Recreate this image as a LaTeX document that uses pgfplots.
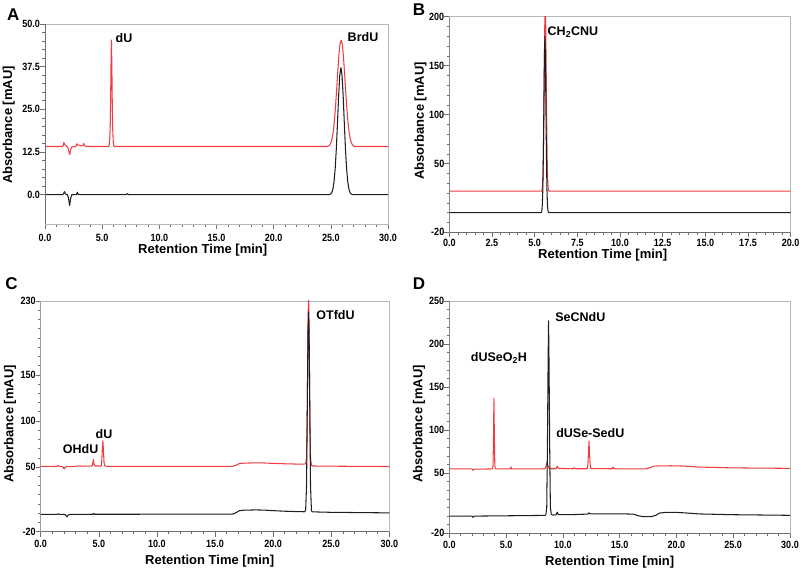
\documentclass[border=0pt]{standalone}
\usepackage{fontspec}
\setmainfont{Liberation Sans}
\usepackage{pgfplots}
\pgfplotsset{compat=1.18}
\definecolor{redline}{RGB}{238,60,66}
\definecolor{blkline}{RGB}{30,30,30}
\definecolor{framegray}{RGB}{178,186,192}
\definecolor{tickgray}{RGB}{110,110,110}
\pgfplotsset{chrom/.style={
  scale only axis, anchor=south west,
  axis line style={draw=framegray, line width=0.8pt},
  tick align=outside, xtick pos=bottom, ytick pos=left,
  major tick length=5pt, minor tick length=2.6pt,
  tick style={draw=tickgray, line width=0.6pt},
  tick label style={font=\bfseries\fontsize{10.5}{11}\selectfont, xscale=0.86},
  yticklabel style={xshift=3.5pt},
  /pgf/number format/assume math mode=true,
  xticklabel style={/pgf/number format/fixed, /pgf/number format/fixed zerofill, /pgf/number format/precision=1},
  every axis plot/.append style={no marks, line width=1.05pt, line join=round},
}}
\newcommand{\lft}{\draw[tickgray, line width=0.8pt] (rel axis cs:0,0) -- (rel axis cs:0,1); \draw[tickgray, line width=0.8pt] (rel axis cs:0,0) -- (rel axis cs:1,0);}
\tikzset{plab/.style={font=\bfseries\fontsize{12.5}{13}\selectfont, inner sep=0pt},
  alab/.style={font=\bfseries\fontsize{13}{14}\selectfont, inner sep=0pt},
  panel/.style={font=\bfseries\fontsize{17}{18}\selectfont, inner sep=0pt}}
\begin{document}
\begin{tikzpicture}[x=1pt,y=1pt]
\useasboundingbox (0,0) rectangle (803,572);
% ---------------- A
\begin{axis}[chrom, at={(45pt,348pt)}, width=343pt, height=200pt,
  xmin=0, xmax=30, ymin=-8.6, ymax=50,
  xtick={0,5,...,30}, minor x tick num=4,
  xticklabel style={yshift=-1.5pt},
  ytick={0,12.5,25,37.5,50}, minor y tick num=4,
  yticklabel style={/pgf/number format/fixed, /pgf/number format/fixed zerofill, /pgf/number format/precision=1}]
\addplot[redline] coordinates {(0,14.1) (1.5,14.1) (1.6,14.4) (1.65,15.3) (1.72,14.7) (1.85,14.3) (2.0,13.8) (2.1,12.5) (2.17,11.8) (2.25,13.3) (2.35,14.0) (2.7,14.1) (2.78,14.9) (2.85,14.6) (3.0,14.5) (3.15,14.3) (3.3,14.3) (3.38,15.0) (3.45,14.4) (3.6,14.1) (5.55,14.1) (5.6,14.3) (5.65,15.4) (5.7,19.4) (5.73,25) (5.75,31) (5.78,39.7) (5.81,45.3) (5.84,39.7) (5.87,31) (5.89,25) (5.92,19.4) (5.97,15.4) (6.02,14.3) (6.1,14.1) (24.7,14.1) (24.9,14.5) (25.0,15.2) (25.1,16.3) (25.2,18.2) (25.3,21.2) (25.4,25.3) (25.5,30.3) (25.6,35.6) (25.7,40.6) (25.8,44.1) (25.9,45.3) (26.0,44.1) (26.1,40.6) (26.2,35.6) (26.3,30.3) (26.4,25.3) (26.5,21.2) (26.6,18.2) (26.7,16.3) (26.8,15.2) (26.9,14.5) (27.1,14.1) (30,14.1)};
\addplot[blkline] coordinates {(0,0) (1.55,0) (1.62,0.3) (1.7,0.9) (1.78,0.2) (1.95,0) (2.05,-0.8) (2.15,-3.2) (2.25,-1) (2.35,0) (2.75,0) (2.83,0.7) (2.9,0.1) (3.1,0) (7.1,0) (7.2,0.3) (7.3,0) (24.9,0) (24.98,0.2) (25.08,0.6) (25.18,1.6) (25.28,3.8) (25.38,7.6) (25.48,13.4) (25.58,20.9) (25.68,28.8) (25.78,34.9) (25.88,37.2) (25.98,34.9) (26.08,28.8) (26.18,20.9) (26.28,13.4) (26.38,7.6) (26.48,3.8) (26.58,1.6) (26.68,0.6) (26.78,0.2) (26.9,0) (30,0)};
\lft
\end{axis}
% ---------------- B
\begin{axis}[chrom, at={(449.3pt,339.7pt)}, width=341.4pt, height=215.6pt,
  xmin=0, xmax=20, ymin=-20, ymax=200,
  xtick={0,2.5,...,20}, minor x tick num=4,
  xticklabel style={yshift=2pt},
  ytick={-20,50,100,150,200}, minor ytick={-10,0,...,190}]
\addplot[redline] coordinates {(0,22) (5.40,22) (5.44,24.1) (5.47,30.4) (5.50,47.7) (5.53,83.8) (5.56,137.3) (5.59,189.6) (5.62,212) (5.65,189.6) (5.68,137.3) (5.71,83.8) (5.74,47.7) (5.77,30.4) (5.80,24.1) (5.84,22) (20,22)};
\addplot[blkline] coordinates {(0,0) (5.38,0) (5.42,2) (5.45,7.9) (5.48,24.3) (5.51,58.5) (5.54,109.3) (5.57,158.8) (5.6,180) (5.63,158.8) (5.66,109.3) (5.69,58.5) (5.72,24.3) (5.75,7.9) (5.78,2) (5.82,0) (20,0)};
\lft
\end{axis}
% ---------------- C
\begin{axis}[chrom, at={(40.7pt,40.3pt)}, width=348.6pt, height=230.7pt,
  xmin=0, xmax=30, ymin=-20, ymax=230,
  xtick={0,5,...,30}, minor x tick num=4,
  ytick={-20,50,100,150,230}, minor ytick={-10,0,...,220}]
\addplot[redline] coordinates {(0,50.8) (1.4,50.8) (1.5,51.6) (1.6,50.9) (1.85,50.5) (1.95,49.3) (2.02,47.9) (2.1,49.6) (2.2,50.4) (2.5,50.6) (3.0,50.9) (3.4,51.3) (3.5,50.9) (3.8,51.2) (4.0,51.0) (4.4,51.2) (4.47,53) (4.53,58.4) (4.59,53) (4.66,51.2) (5.2,51.2) (5.25,55) (5.3,68) (5.35,78.5) (5.4,68) (5.45,55) (5.52,51.2) (5.7,50.8) (16.5,50.8) (16.8,52) (17.1,53.8) (17.5,54.3) (18.5,54.6) (19.2,54.5) (20,54) (21,53.6) (22,53.3) (22.7,53.2) (22.8,54) (22.88,60) (22.94,110) (23.0,200) (23.05,240) (23.1,200) (23.16,110) (23.22,60) (23.3,52) (23.4,51.2) (25,51) (30,50.6)};
\addplot[blkline] coordinates {(0,-1.2) (1.4,-1.2) (1.5,-0.6) (1.6,-1.2) (2.1,-1.4) (2.2,-2.8) (2.27,-3.8) (2.35,-2) (2.5,-1.3) (4.5,-1.1) (4.56,-0.2) (4.62,-1.1) (16.5,-1.0) (16.8,0.5) (17.1,2.8) (17.5,3.3) (18.5,3.6) (19.2,3.4) (20,2.8) (21,2.2) (22,1.8) (22.7,1.6) (22.8,3) (22.88,30) (22.94,110) (23.0,195) (23.05,218) (23.1,195) (23.16,110) (23.22,30) (23.3,2.5) (23.4,1.5) (25,1.0) (30,0.4)};
\lft
\end{axis}
% ---------------- D
\begin{axis}[chrom, at={(449.3pt,38.7pt)}, width=340.7pt, height=232.3pt,
  xmin=0, xmax=30, ymin=-20, ymax=250,
  xtick={0,5,...,30}, minor x tick num=4,
  xticklabel style={yshift=1pt},
  ytick={-20,50,100,150,200,250}, minor ytick={-10,0,...,240}]
\addplot[redline] coordinates {(0,54.8) (2.0,54.8) (2.1,53.2) (2.2,54.5) (3.8,54.8) (3.85,58) (3.89,90) (3.93,137) (3.97,90) (4.01,58) (4.07,55) (5.35,54.8) (5.43,57) (5.5,54.8) (8.4,55) (8.5,57) (8.6,62) (8.7,58) (8.8,55.5) (9.0,55) (9.4,55) (9.5,58) (9.6,55.5) (10.9,55) (11.0,56.3) (11.1,55) (12.15,55) (12.2,60) (12.26,75) (12.3,87) (12.34,75) (12.4,60) (12.46,55.3) (14.35,55) (14.43,57) (14.5,55) (17.3,54.8) (17.6,56) (18.0,58) (18.5,58.3) (19.5,58.5) (20.5,58.2) (22,57) (25,56) (30,55.5)};
\addplot[blkline] coordinates {(0,0) (2.0,0) (2.1,-1.5) (2.2,0) (4,0.2) (8.4,0.8) (8.5,1.5) (8.58,10) (8.64,80) (8.7,180) (8.74,227) (8.78,180) (8.84,80) (8.9,10) (8.98,2) (9.1,1.2) (9.4,1.5) (9.5,4.5) (9.6,1.8) (11,1.8) (12.2,2.3) (12.3,3.8) (12.4,2.5) (15.5,2.5) (16.2,2.3) (16.6,0.5) (17,-0.5) (17.8,-0.6) (18.2,1) (18.5,3.5) (19,4.2) (20,4.3) (21,3.5) (22,2.5) (25,1.6) (30,0.9)};
\lft
\end{axis}
% ---------------- labels
\node[panel] at (13.3,557.7) {A};
\node[panel] at (419,562) {B};
\node[panel] at (11.5,288.5) {C};
\node[panel] at (419,288.5) {D};
\node[alab] at (202.7,322) {Retention Time [min]};
\node[alab] at (602.7,317) {Retention Time [min]};
\node[alab] at (209.7,11) {Retention Time [min]};
\node[alab] at (609.7,10.3) {Retention Time [min]};
\node[alab, rotate=90] at (8.8,447) {Absorbance [mAU]};
\node[alab, rotate=90] at (420.5,451) {Absorbance [mAU]};
\node[alab, rotate=90] at (10,148) {Absorbance [mAU]};
\node[alab, rotate=90] at (419,148) {Absorbance [mAU]};
\node[plab] at (124,533.5) {dU};
\node[plab] at (363,535) {BrdU};
\node[plab, anchor=west] at (547.5,540.3) {CH\textsubscript{2}CNU};
\node[plab] at (335.5,257) {OTfdU};
\node[plab] at (80.7,122.7) {OHdU};
\node[plab] at (104,138) {dU};
\node[plab] at (580.3,255.3) {SeCNdU};
\node[plab, anchor=west] at (470.7,214.3) {dUSeO\textsubscript{2}H};
\node[plab] at (590.3,138.7) {dUSe-SedU};
\end{tikzpicture}
\end{document}
